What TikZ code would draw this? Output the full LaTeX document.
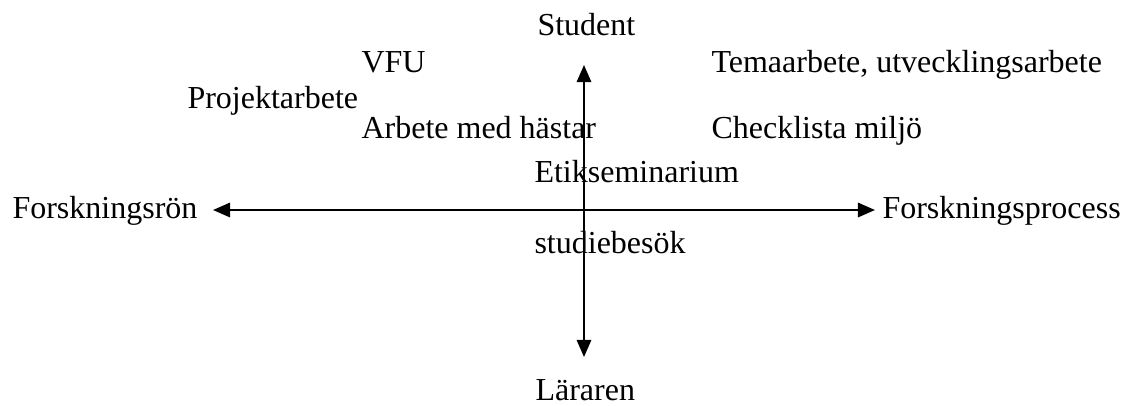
\documentclass[tikz,border=0pt]{standalone}
\usepackage{fontspec}
\setmainfont{Liberation Serif}
\usetikzlibrary{arrows.meta}
\begin{document}
\begin{tikzpicture}[x=0.375pt,y=-0.375pt,
  lbl/.style={anchor=base west,inner sep=0pt,font=\fontsize{12}{14}\selectfont},
  axis/.style={line width=0.75pt,{Triangle[length=6.4pt,width=5.4pt]}-{Triangle[length=6.4pt,width=5.4pt]}}]
\useasboundingbox (0,0) rectangle (1124,405);
\coordinate (top) at (584,65);
\coordinate (bot) at (584,357);
\coordinate (lft) at (213,210);
\coordinate (rgt) at (875,210);
\draw[axis] (lft) -- (rgt);
\draw[axis] (top) -- (bot);
\node[lbl] (student) at (537,35) {Student};
\node[lbl] (lararen) at (535,400) {Läraren};
\node[lbl] (fron) at (12,218) {Forskningsrön};
\node[lbl] (fproc) at (882,218) {Forskningsprocess};
\node[lbl] (vfu) at (361,72) {VFU};
\node[lbl] (tema) at (711,72) {Temaarbete, utvecklingsarbete};
\node[lbl] (proj) at (187,108) {Projektarbete};
\node[lbl] (hast) at (361,138) {Arbete med hästar};
\node[lbl] (check) at (711,138) {Checklista miljö};
\node[lbl] (etik) at (534,182) {Etikseminarium};
\node[lbl] (stud) at (534,253) {studiebesök};
\end{tikzpicture}
\end{document}
